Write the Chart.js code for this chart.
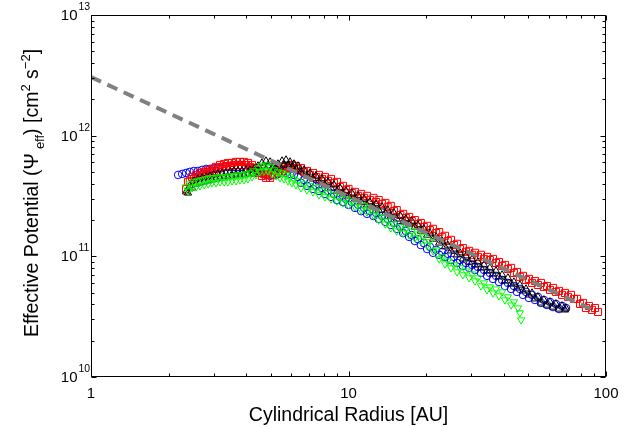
<!DOCTYPE html>
<html>
<head>
<meta charset="utf-8">
<script src="https://cdn.jsdelivr.net/npm/chart.js@4.4.1/dist/chart.umd.min.js"></script>
<style>
  html, body { margin: 0; padding: 0; background: #fff; }
</style>
</head>
<body>
<canvas id="potCanvas" width="639" height="427"></canvas>
<script>
// radius [AU] and effective potential [cm^2 s^-2] for each run
// (the *Edge arrays are the scattered points along the lower/upper side of each band)
const blueR = [2.18, 2.26, 2.34, 2.42, 2.51, 2.60, 2.70, 2.80, 2.90, 3.00, 3.11, 3.23, 3.34, 3.47, 3.59, 3.72, 3.86, 4.00, 4.15, 4.30, 4.45, 4.61, 4.78, 4.96, 5.14, 5.32, 5.52, 5.72, 5.93, 6.14, 6.37, 6.72, 7.09, 7.48, 7.89, 8.33, 8.78, 9.27, 9.78, 10.3, 10.9, 11.5, 12.1, 12.8, 13.5, 14.2, 15.0, 15.9, 16.7, 17.6, 18.6, 19.6, 20.7, 21.9, 23.1, 24.3, 25.7, 27.1, 28.6, 30.2, 31.8, 33.6, 35.4, 37.4, 39.5, 41.6, 43.9, 46.3, 48.9, 51.6, 54.4, 57.4, 60.6, 63.9, 67.5, 69.9];
const bluePsi = [4.73e11, 4.82e11, 4.91e11, 5.01e11, 5.10e11, 5.10e11, 5.20e11, 5.30e11, 5.30e11, 5.40e11, 5.40e11, 5.40e11, 5.51e11, 5.51e11, 5.51e11, 5.51e11, 5.51e11, 5.40e11, 5.40e11, 5.30e11, 5.10e11, 4.91e11, 4.73e11, 4.64e11, 4.73e11, 4.82e11, 4.91e11, 4.91e11, 4.82e11, 4.73e11, 4.55e11,
  4.30e11, 4.06e11, 3.84e11, 3.69e11, 3.48e11, 3.29e11, 3.11e11, 2.99e11, 2.82e11, 2.67e11, 2.52e11, 2.37e11, 2.29e11, 2.16e11, 2.04e11, 1.89e11, 1.75e11, 1.62e11, 1.50e11, 1.39e11, 1.29e11, 1.20e11, 1.13e11, 1.09e11, 1.05e11, 9.89e10, 9.33e10, 8.81e10, 8.49e10, 8.17e10, 7.71e10, 7.28e10, 6.89e10, 6.37e10, 6.02e10, 5.68e10, 5.37e10, 5.07e10, 4.79e10, 4.61e10, 4.35e10, 4.19e10, 4.03e10, 3.88e10, 3.73e10];
const blueEdgeR = [6.54, 6.90, 7.28, 7.68, 8.10, 8.55, 9.02, 9.52, 10.0, 10.6, 11.2, 11.8, 12.5, 13.1, 13.9, 14.6, 15.4, 16.3, 17.2, 18.1, 19.1, 20.2, 21.3, 22.5, 23.7, 25.0, 26.4, 27.8, 29.4, 31.0, 32.7, 34.5, 36.4, 38.4, 40.5, 42.8, 45.1, 47.6, 50.2, 53.0, 55.9, 59.0, 62.3, 65.7];
const blueEdgePsi = [4.06e11, 3.84e11, 3.62e11, 3.48e11, 3.29e11, 3.11e11, 2.93e11, 2.82e11, 2.67e11, 2.52e11, 2.37e11, 2.25e11, 2.16e11, 2.04e11, 1.93e11, 1.82e11, 1.69e11, 1.56e11, 1.45e11, 1.34e11, 1.24e11, 1.15e11, 1.07e11, 1.03e11, 9.89e10, 9.33e10, 8.81e10, 8.33e10, 8.02e10, 7.71e10, 7.28e10, 6.89e10, 6.50e10, 6.13e10, 5.68e10, 5.37e10, 5.07e10, 4.79e10, 4.52e10, 4.35e10, 4.11e10, 3.95e10, 3.80e10, 3.66e10];

const redR = [2.34, 2.42, 2.51, 2.60, 2.70, 2.80, 2.90, 3.00, 3.11, 3.23, 3.34, 3.47, 3.59, 3.72, 3.86, 4.00, 4.15, 4.30, 4.45, 4.61, 4.78, 4.96, 5.14, 5.32, 5.52, 5.72, 5.93, 6.14, 6.37, 6.72, 7.09, 7.48, 7.89, 8.33, 8.78, 9.27, 9.78, 10.3, 10.9, 11.5, 12.1, 12.8, 13.5, 14.2, 15.0, 15.9, 16.7, 17.6, 18.6, 19.6, 20.7, 21.9, 23.1, 24.3, 25.7, 27.1, 28.6, 30.2, 31.8, 33.6, 35.4, 37.4, 39.5, 41.6, 43.9, 46.3, 48.9, 51.6, 54.4, 57.4, 60.6, 63.9, 67.5, 71.2, 75.1, 79.3, 83.6, 88.2, 93.1];
const redPsi = [3.62e11, 4.22e11, 4.38e11, 4.55e11, 4.73e11, 4.82e11, 5.01e11, 5.10e11, 5.30e11, 5.51e11, 5.61e11, 5.61e11, 5.72e11, 5.72e11, 5.72e11, 5.72e11, 5.51e11, 5.30e11, 4.91e11, 4.64e11, 4.47e11, 4.47e11, 4.73e11, 4.91e11, 5.10e11, 5.30e11, 5.40e11, 5.40e11, 5.30e11,
  5.01e11, 4.73e11, 4.55e11, 4.38e11, 4.22e11, 4.06e11, 3.76e11, 3.55e11, 3.35e11, 3.17e11, 3.05e11, 2.93e11, 2.82e11, 2.72e11, 2.57e11, 2.37e11, 2.20e11, 2.08e11, 1.96e11, 1.85e11, 1.75e11, 1.65e11, 1.56e11, 1.45e11, 1.34e11, 1.24e11, 1.15e11, 1.09e11, 1.03e11, 9.89e10, 9.52e10, 9.33e10, 8.81e10, 8.33e10, 7.86e10, 7.28e10, 6.76e10, 6.37e10, 6.02e10, 5.79e10, 5.57e10, 5.27e10, 5.07e10, 4.79e10,
  4.61e10, 4.44e10, 4.03e10, 3.73e10, 3.60e10, 3.46e10];
const redEdgeR = [2.38, 2.47, 2.56, 2.65, 2.75, 2.85, 2.95, 3.06, 3.17, 3.29, 3.40, 3.53, 3.66, 3.79, 3.93, 4.07, 4.22, 4.37, 4.53, 4.70, 4.87, 5.05, 5.23, 5.42, 5.62, 5.82, 6.03, 6.25,
  6.54, 6.90, 7.28, 7.68, 8.10, 8.55, 9.02, 9.52, 10.0, 10.6, 11.2, 11.8, 12.5, 13.1, 13.9, 14.6, 15.4, 16.3, 17.2, 18.1, 19.1, 20.2, 21.3, 22.5, 23.7, 25.0, 26.4, 27.8, 29.4, 31.0, 32.7, 34.5, 36.4, 38.4, 40.5, 42.8, 45.1, 47.6, 50.2, 53.0, 55.9, 59.0, 62.3, 65.7, 69.3, 73.1, 77.2, 81.4, 85.9, 90.6];
const redEdgePsi = [4.14e11, 4.55e11, 4.73e11, 4.91e11, 5.01e11, 5.20e11, 5.30e11, 5.51e11, 5.72e11, 5.83e11, 5.94e11, 5.94e11, 6.06e11, 6.06e11, 6.06e11, 5.94e11, 5.72e11, 5.40e11, 5.01e11, 4.82e11, 4.73e11, 4.82e11, 5.10e11, 5.30e11, 5.51e11, 5.61e11, 5.72e11, 5.61e11,
  5.40e11, 5.10e11, 4.91e11, 4.73e11, 4.55e11, 4.38e11, 4.14e11, 3.84e11, 3.62e11, 3.42e11, 3.29e11, 3.17e11, 3.05e11, 2.93e11, 2.77e11, 2.62e11, 2.42e11, 2.25e11, 2.12e11, 2.00e11, 1.89e11, 1.79e11, 1.69e11, 1.59e11, 1.48e11, 1.37e11, 1.27e11, 1.17e11, 1.11e11, 1.07e11, 1.03e11, 9.89e10, 9.52e10, 8.98e10, 8.49e10, 8.02e10, 7.42e10, 6.89e10, 6.50e10, 6.25e10, 6.02e10, 5.68e10, 5.47e10, 5.17e10,
  4.97e10, 4.79e10, 4.44e10, 4.11e10, 3.88e10, 3.73e10];

const blackR = [2.34, 2.42, 2.51, 2.60, 2.70, 2.80, 2.90, 3.00, 3.11, 3.23, 3.34, 3.47, 3.59, 3.72, 3.86, 4.00, 4.15, 4.30, 4.45, 4.61, 4.78, 4.96, 5.14, 5.32, 5.52, 5.72, 5.93, 6.14, 6.37, 6.72, 7.09, 7.48, 7.89, 8.33, 8.78, 9.27, 9.78, 10.3, 10.9, 11.5, 12.1, 12.8, 13.5, 14.2, 15.0, 15.9, 16.7, 17.6, 18.6, 19.6, 20.7, 21.9, 23.1, 24.3, 25.7, 27.1, 28.6, 30.2, 31.8, 33.6, 35.4, 37.4, 39.5, 41.6, 43.9, 46.3, 48.9, 51.6, 54.4, 57.4, 60.6, 63.9, 67.5, 69.9];
const blackPsi = [3.42e11, 3.84e11, 4.22e11, 4.38e11, 4.47e11, 4.55e11, 4.64e11, 4.73e11, 4.82e11, 4.91e11, 4.91e11, 5.01e11, 5.10e11, 5.10e11, 5.10e11, 5.20e11, 5.20e11, 5.30e11, 5.61e11, 5.94e11, 6.17e11, 6.06e11, 5.61e11, 5.83e11, 6.17e11, 6.29e11, 6.06e11, 5.83e11, 5.61e11,
  5.20e11, 4.91e11, 4.64e11, 4.38e11, 4.14e11, 3.91e11, 3.69e11, 3.48e11, 3.35e11, 3.17e11, 2.99e11, 2.82e11, 2.72e11, 2.57e11, 2.42e11, 2.29e11, 2.16e11, 2.04e11, 1.96e11, 1.82e11, 1.69e11, 1.56e11, 1.45e11, 1.34e11, 1.24e11, 1.15e11, 1.07e11, 1.01e11, 9.52e10, 8.98e10, 8.49e10, 8.02e10, 7.56e10, 7.02e10, 6.63e10, 6.13e10, 5.79e10, 5.37e10, 4.97e10, 4.61e10, 4.35e10, 4.19e10, 4.03e10, 3.88e10, 3.73e10];
const blackEdgeR = [2.38, 2.47, 2.56, 2.65, 2.75, 2.85, 2.95, 3.06, 3.17, 3.29, 3.40, 3.53, 3.66, 3.79, 3.93, 4.07, 4.22, 4.37, 4.53, 4.70, 4.87, 5.05, 5.23, 5.42, 5.62, 5.82, 6.03, 6.25,
  6.54, 6.90, 7.28, 7.68, 8.10, 8.55, 9.02, 9.52, 10.0, 10.6, 11.2, 11.8, 12.5, 13.1, 13.9, 14.6, 15.4, 16.3, 17.2, 18.1, 19.1, 20.2, 21.3, 22.5, 23.7, 25.0, 26.4, 27.8, 29.4, 31.0, 32.7, 34.5, 36.4, 38.4, 40.5, 42.8, 45.1, 47.6, 50.2, 53.0, 55.9, 59.0, 62.3, 65.7, 69.3];
const blackEdgePsi = [3.35e11, 3.69e11, 3.98e11, 4.06e11, 4.14e11, 4.22e11, 4.30e11, 4.38e11, 4.47e11, 4.55e11, 4.55e11, 4.64e11, 4.73e11, 4.73e11, 4.73e11, 4.82e11, 4.82e11, 5.01e11, 5.30e11, 5.61e11, 5.61e11, 5.40e11, 5.30e11, 5.51e11, 5.72e11, 5.72e11, 5.51e11, 5.30e11,
  5.01e11, 4.64e11, 4.38e11, 4.14e11, 3.91e11, 3.69e11, 3.48e11, 3.29e11, 3.17e11, 2.99e11, 2.82e11, 2.67e11, 2.57e11, 2.42e11, 2.29e11, 2.16e11, 2.04e11, 1.93e11, 1.85e11, 1.75e11, 1.62e11, 1.50e11, 1.39e11, 1.29e11, 1.20e11, 1.11e11, 1.03e11, 9.52e10, 8.98e10, 8.49e10, 8.02e10, 7.56e10, 7.14e10, 6.76e10, 6.25e10, 5.90e10, 5.47e10, 5.17e10, 4.79e10, 4.44e10, 4.11e10, 3.95e10, 3.80e10, 3.66e10, 3.60e10];

const greenR = [2.34, 2.42, 2.51, 2.60, 2.70, 2.80, 2.90, 3.00, 3.11, 3.23, 3.34, 3.47, 3.59, 3.72, 3.86, 4.00, 4.15, 4.30, 4.45, 4.61, 4.78, 4.96, 5.14, 5.32, 5.52, 5.72, 5.93, 6.14, 6.37, 6.72, 7.09, 7.48, 7.89, 8.33, 8.78, 9.27, 9.78, 10.3, 10.9, 11.5, 12.1, 12.8, 13.5, 14.2, 15.0, 15.9, 16.7, 17.6, 18.6, 19.6, 20.7, 21.9, 23.1, 24.3, 25.7, 27.1, 28.6, 30.2, 31.8, 33.6, 35.4, 37.4, 39.5, 41.6, 43.9, 45.5, 46.3, 46.8];
const greenPsi = [3.76e11, 3.98e11, 4.14e11, 4.22e11, 4.30e11, 4.38e11, 4.47e11, 4.47e11, 4.55e11, 4.55e11, 4.55e11, 4.64e11, 4.64e11, 4.73e11, 4.73e11, 4.82e11, 4.91e11, 5.10e11, 5.40e11, 5.61e11, 5.72e11, 5.51e11, 5.20e11, 5.01e11, 4.91e11, 4.73e11, 4.55e11, 4.38e11, 4.22e11,
  3.98e11, 3.84e11, 3.69e11, 3.48e11, 3.35e11, 3.23e11, 3.11e11, 2.99e11, 2.87e11, 2.77e11, 2.62e11, 2.52e11, 2.33e11, 2.12e11, 1.96e11, 1.85e11, 1.75e11, 1.69e11, 1.62e11, 1.53e11, 1.45e11, 1.32e11, 1.13e11, 9.89e10, 9.15e10, 8.49e10, 8.02e10, 7.56e10, 7.14e10, 6.63e10, 6.02e10, 5.57e10, 5.37e10, 5.07e10, 4.61e10, 4.19e10, 3.73e10, 3.40e10, 2.97e10];
const greenEdgeR = [2.38, 2.47, 2.56, 2.65, 2.75, 2.85, 2.95, 3.06, 3.17, 3.29, 3.40, 3.53, 3.66, 3.79, 3.93, 4.07, 4.22, 4.37, 4.53, 4.70, 4.87, 5.05, 5.23, 5.42, 5.62, 5.82, 6.03, 6.25,
  6.54, 6.90, 7.28, 7.68, 8.10, 8.55, 9.02, 9.52, 10.0, 10.6, 11.2, 11.8, 12.5, 13.1, 13.9, 14.6, 15.4, 16.3, 17.2, 18.1, 19.1, 20.2, 21.3, 22.5, 23.7, 25.0, 26.4, 27.8, 29.4, 31.0, 32.7, 34.5, 36.4, 38.4, 40.5, 42.8];
const greenEdgePsi = [3.48e11, 3.69e11, 3.76e11, 3.84e11, 3.91e11, 3.98e11, 4.06e11, 4.06e11, 4.14e11, 4.14e11, 4.14e11, 4.22e11, 4.22e11, 4.30e11, 4.30e11, 4.38e11, 4.55e11, 4.73e11, 5.01e11, 5.10e11, 5.10e11, 4.82e11, 4.64e11, 4.47e11, 4.38e11, 4.22e11, 4.06e11, 3.91e11,
  3.69e11, 3.55e11, 3.42e11, 3.23e11, 3.11e11, 2.99e11, 2.87e11, 2.77e11, 2.67e11, 2.57e11, 2.42e11, 2.33e11, 2.20e11, 2.00e11, 1.85e11, 1.72e11, 1.62e11, 1.56e11, 1.50e11, 1.42e11, 1.34e11, 1.24e11, 1.11e11, 9.52e10, 8.65e10, 8.02e10, 7.42e10, 7.02e10, 6.63e10, 6.25e10, 5.68e10, 5.27e10, 4.97e10, 4.70e10, 4.35e10, 3.95e10];

// power-law guide (dashed grey)
const fitR = [1, 92.3];
const fitPsi = [3.06e12, 3.46e10];

const xTicks = [1, 10, 100];
const yTicks = [1e10, 1e11, 1e12, 1e13];
const yTickExp = ['10', '11', '12', '13'];

const FONT = '"Liberation Sans", Arial, Helvetica, sans-serif';

function pts(rs, ps) {
  return rs.map((r, i) => ({ x: r, y: ps[i] }));
}

function markers(label, data, color, style, radius, rot) {
  return {
    label: label,
    data: data,
    showLine: false,
    pointStyle: style,
    pointRadius: radius,
    pointRotation: rot || 0,
    pointBorderColor: color,
    pointBackgroundColor: 'rgba(0,0,0,0)',
    pointBorderWidth: 1
  };
}

// drawn with pieces so sub/superscripts work
function richText(ctx, parts, cx, baseY) {
  let total = 0;
  parts.forEach(p => {
    ctx.font = p.size + 'px ' + FONT;
    p.w = ctx.measureText(p.t).width;
    total += p.w + (p.gap || 0);
  });
  let x = cx - total / 2;
  ctx.textAlign = 'left';
  ctx.textBaseline = 'alphabetic';
  parts.forEach(p => {
    x += p.gap || 0;
    ctx.font = p.size + 'px ' + FONT;
    ctx.fillText(p.t, x, baseY + (p.dy || 0));
    x += p.w;
  });
}

const axesBox = {
  id: 'axesBox',
  afterDraw(chart) {
    const ctx = chart.ctx;
    const xs = chart.scales.x, ys = chart.scales.y;
    const a = chart.chartArea;
    const L = Math.round(a.left) + 0.5, R = Math.round(a.right) - 0.5;
    const T = Math.round(a.top) + 0.5, B = Math.round(a.bottom) - 0.5;
    ctx.save();
    ctx.strokeStyle = '#000';
    ctx.fillStyle = '#000';
    ctx.lineWidth = 1;
    ctx.strokeRect(L, T, R - L, B - T);

    // tick marks, pointing inwards on all four sides
    ctx.beginPath();
    for (let d = 0; d < xTicks.length; d++) {
      for (let m = 1; m <= 9; m++) {
        const v = xTicks[d] * m;
        if (v > xTicks[xTicks.length - 1]) break;
        const px = Math.round(xs.getPixelForValue(v)) + 0.5;
        const len = m === 1 ? 5 : 3;
        ctx.moveTo(px, B); ctx.lineTo(px, B - len);
        ctx.moveTo(px, T); ctx.lineTo(px, T + len);
      }
    }
    for (let d = 0; d < yTicks.length; d++) {
      for (let m = 1; m <= 9; m++) {
        const v = yTicks[d] * m;
        if (v > yTicks[yTicks.length - 1]) break;
        const py = Math.round(ys.getPixelForValue(v)) + 0.5;
        const len = m === 1 ? 5 : 3;
        ctx.moveTo(L, py); ctx.lineTo(L + len, py);
        ctx.moveTo(R, py); ctx.lineTo(R - len, py);
      }
    }
    ctx.stroke();

    // x tick labels
    ctx.font = '15px ' + FONT;
    ctx.textAlign = 'center';
    ctx.textBaseline = 'alphabetic';
    xTicks.forEach(v => {
      ctx.fillText(String(v), xs.getPixelForValue(v), 398);
    });

    // y tick labels as 10^n
    yTicks.forEach((v, i) => {
      const py = ys.getPixelForValue(v);
      ctx.font = '15px ' + FONT;
      ctx.textAlign = 'right';
      ctx.fillText('10', 77.5, py + 5);
      ctx.font = '10.5px ' + FONT;
      ctx.textAlign = 'left';
      ctx.fillText(yTickExp[i], 78.5, py - 5);
    });

    // x axis title
    ctx.font = '19.5px ' + FONT;
    ctx.textAlign = 'center';
    ctx.fillText('Cylindrical Radius [AU]', (a.left + a.right) / 2, 421);

    // y axis title
    ctx.translate(38, 193);
    ctx.rotate(-Math.PI / 2);
    richText(ctx, [
      { t: 'Effective Potential (', size: 19.5 },
      { t: 'Ψ', size: 19.5 },
      { t: 'eff', size: 13, dy: 6, gap: 4 },
      { t: ') [cm', size: 19.5 },
      { t: '2', size: 13, dy: -8 },
      { t: ' s', size: 19.5 },
      { t: '−2', size: 13, dy: -8 },
      { t: ']', size: 19.5 }
    ], 0, 0);
    ctx.restore();
  }
};

const potCanvas = document.getElementById('potCanvas');

new Chart(potCanvas, {
  type: 'scatter',
  data: {
    datasets: [
      {
        type: 'line',
        label: 'fit',
        data: pts(fitR, fitPsi),
        borderColor: '#808080',
        borderWidth: 4,
        borderDash: [11, 7],
        pointRadius: 0,
        showLine: true,
        fill: false
      },
      markers('green', pts(greenR, greenPsi).concat(pts(greenEdgeR, greenEdgePsi)), '#00ff00', 'triangle', 4.2, 180),
      markers('black', pts(blackR, blackPsi).concat(pts(blackEdgeR, blackEdgePsi)), '#000000', 'triangle', 4.2, 0),
      markers('red', pts(redR, redPsi).concat(pts(redEdgeR, redEdgePsi)), '#ff0000', 'rect', 5, 0),
      markers('blue', pts(blueR, bluePsi).concat(pts(blueEdgeR, blueEdgePsi)), '#0000ff', 'circle', 3.8, 0)
    ]
  },
  options: {
    responsive: false,
    animation: false,
    layout: { padding: { left: 91, right: 33, top: 15, bottom: 50 } },
    scales: {
      x: { type: 'logarithmic', min: 1, max: 100, display: false },
      y: { type: 'logarithmic', min: 1e10, max: 1e13, display: false }
    },
    plugins: {
      legend: { display: false },
      tooltip: { enabled: false }
    }
  },
  plugins: [axesBox]
});
</script>
</body>
</html>
